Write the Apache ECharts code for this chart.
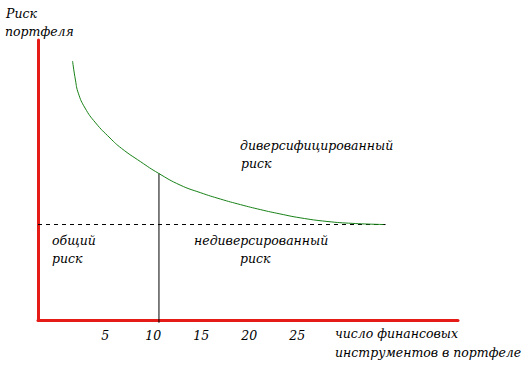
<!DOCTYPE html>
<html>
<head>
<meta charset="utf-8">
<script src="https://cdn.jsdelivr.net/npm/echarts@6/dist/echarts.min.js"></script>
<style>html,body{margin:0;padding:0;background:#fff}#c{width:528px;height:366px}</style>
</head>
<body>
<div id="c"></div>
<script>
// Data
var riskX = [1.6, 1.9, 2.2, 2.9, 4.0, 5.5, 6.7, 8.7, 10.55, 12.8, 14.9, 17.0, 19.1, 21.2, 23.2, 25.3, 28.1, 30.8, 34.0];
var riskY = [92.5, 85.7, 81.0, 75.7, 70.4, 65.0, 61.3, 56.5, 52.4, 48.2, 45.5, 43.2, 41.2, 39.4, 37.9, 36.5, 35.2, 34.5, 34.1];
var systematicLevel = 34.1;
var systematicEndX = 34.2;
var markerX = 10.6;
var tickValues = [5, 10, 15, 20, 25];
var yTitle = ['Риск', 'портфеля'];
var xTitle = ['число финансовых', 'инструментов в портфеле'];
var labelTotal = ['общий', 'риск'];
var labelUndiv = ['недиверсированный', 'риск'];
var labelDiv = ['диверсифицированный', 'риск'];

var curve = riskX.map(function (x, i) { return [x, riskY[i]]; });
var markerTop = riskY[riskX.indexOf(10.55)];

var FONT = 'DejaVu Serif';
var FS = 12.5;
var RED = '#e41b17';
function txt(str, left, top) {
  return {
    type: 'text', left: left, top: top,
    style: { text: str, fontFamily: FONT, fontStyle: 'italic', fontSize: FS, fill: '#000' }
  };
}

var chart = echarts.init(document.getElementById('c'), null, { renderer: 'svg' });
chart.setOption({
  animation: false,
  backgroundColor: '#fff',
  textStyle: { fontFamily: FONT },
  grid: { left: 38, right: 70, top: 40, bottom: 46 },
  xAxis: {
    type: 'value', min: -2, max: 41.75,
    splitLine: { show: false },
    axisTick: { show: false },
    axisLine: { show: true, onZero: false, lineStyle: { color: RED, width: 3 } },
    axisLabel: {
      customValues: tickValues, margin: 9, color: '#000',
      fontFamily: FONT, fontStyle: 'italic', fontSize: FS
    }
  },
  yAxis: {
    type: 'value', min: 0, max: 100,
    splitLine: { show: false },
    axisTick: { show: false },
    axisLabel: { show: false },
    axisLine: { show: true, onZero: false, lineStyle: { color: RED, width: 3 } }
  },
  series: [
    {
      type: 'line', data: curve, smooth: 0.5, symbol: 'none',
      lineStyle: { color: '#168016', width: 1 }, z: 3
    },
    {
      type: 'line', data: [[-2, systematicLevel], [systematicEndX, systematicLevel]],
      symbol: 'none', lineStyle: { color: '#000', width: 1, type: [4, 4] }, z: 2
    },
    {
      type: 'line', data: [[markerX, -1], [markerX, markerTop]], clip: false,
      symbol: 'none', lineStyle: { color: '#000', width: 1 }, z: 1
    }
  ],
  graphic: [
    txt(yTitle[0], 6, 7),
    txt(yTitle[1], 5, 25),
    txt(xTitle[0], 335, 327),
    txt(xTitle[1], 335, 346),
    txt(labelTotal[0], 52, 234),
    txt(labelTotal[1], 52, 252),
    txt(labelUndiv[0], 194, 234),
    txt(labelUndiv[1], 240, 252),
    txt(labelDiv[0], 240, 139),
    txt(labelDiv[1], 241, 157)
  ]
});
</script>
</body>
</html>
